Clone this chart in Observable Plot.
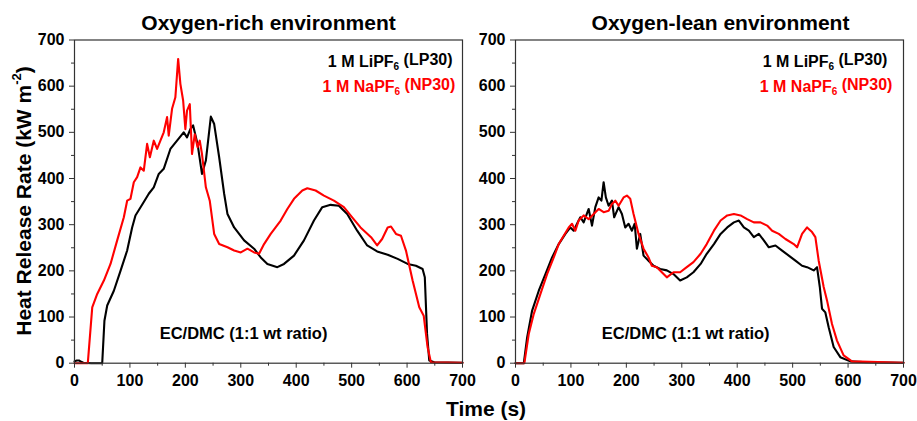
<!DOCTYPE html>
<html><head><meta charset="utf-8">
<script src="https://cdn.jsdelivr.net/npm/d3@7"></script>
<script src="https://cdn.jsdelivr.net/npm/@observablehq/plot@0.6"></script>
<style>
body{margin:0;background:#fff;}
#wrap{position:relative;width:917px;height:421px;font-family:"Liberation Sans",Arial,sans-serif;color:#000;background:#fff;}
.panel{position:absolute;top:0;}
#ylab{position:absolute;left:23px;top:201px;transform:translate(-50%,-50%) rotate(-90deg);white-space:nowrap;font-weight:bold;font-size:21px;line-height:1;}
#xlab{position:absolute;left:486px;top:398px;transform:translateX(-50%);white-space:nowrap;font-weight:bold;font-size:21px;line-height:1;}
sup{font-size:62%;vertical-align:0.75em;line-height:0;}
</style></head>
<body>
<div id="wrap">
<div class="panel" id="left" style="left:0"></div>
<div class="panel" id="right" style="left:470px"></div>
<div id="ylab">Heat Release Rate (kW m<sup>-2</sup>)</div>
<div id="xlab">Time (s)</div>
</div>
<script>
// ---- data ----
const panelTitles = ["Oxygen-rich environment", "Oxygen-lean environment"];
const seriesNames = ["1 M LiPF6 (LP30)", "1 M NaPF6 (NP30)"];
const noteText = "EC/DMC (1:1 wt ratio)";
const axisTicks = [0,100,200,300,400,500,600,700];

// Oxygen-rich, LP30 (black)
const richLP_t = [0,4,8,12,16,30,50,54,59,71,83,95,104,110,125,134,143,152,161,173,185,197,203,209,214,222,230,237,246,252,261,270,276,288,306,324,336,348,366,378,396,414,432,447,462,477,492,510,528,546,565,583,601,616,628,632,636,640,649,700];
const richLP_v = [4,6,6,3,1,0,0,92,125,157,200,244,294,320,349,367,381,410,421,464,482,500,489,507,515,475,410,439,534,518,446,367,323,294,266,248,229,215,208,215,233,266,309,338,343,341,323,287,255,242,235,226,215,211,204,186,64,6,2,1];
// Oxygen-rich, NP30 (red)
const richNP_t = [0,24,32,41,53,65,77,89,95,101,107,113,119,125,131,136,143,149,155,161,167,170,176,182,187,191,196,200,203,208,212,217,222,226,230,237,244,252,261,276,288,300,312,324,333,342,354,372,384,396,411,420,435,450,468,486,501,516,535,546,555,565,571,580,589,598,610,622,630,637,643,700];
const richNP_v = [0,0,121,150,179,215,266,316,352,356,392,403,424,417,475,446,482,464,482,500,533,493,551,576,659,605,569,507,547,561,453,496,468,482,453,381,352,280,258,251,244,240,248,240,237,258,280,309,334,356,374,379,374,363,352,338,316,294,273,255,269,294,296,280,276,244,179,121,103,35,2,1];
// Oxygen-lean, LP30 (black)
const leanLP_t = [0,15,21,30,42,54,66,78,90,99,105,111,117,123,132,138,144,150,155,159,163,168,174,178,186,192,198,204,210,215,219,225,231,240,249,261,273,285,297,309,321,334,345,358,370,382,394,403,412,421,430,439,448,457,469,481,493,505,517,526,538,544,549,553,559,565,574,586,604,634,700];
const leanLP_v = [0,0,56,114,157,193,229,258,280,294,287,302,316,305,334,298,338,359,352,392,359,341,352,316,338,323,294,302,287,302,248,280,233,222,211,204,201,193,179,186,197,215,237,258,280,294,305,309,294,287,273,280,266,251,255,244,233,222,211,208,201,208,165,118,110,78,35,13,4,2,1];
// Oxygen-lean, NP30 (red)
const leanNP_t = [0,16,24,33,45,57,69,78,87,96,102,108,114,123,132,141,150,159,168,174,180,186,195,201,207,213,222,231,240,246,255,264,273,285,297,309,321,334,345,358,370,382,394,406,418,430,442,454,463,475,487,502,508,517,526,535,541,547,556,562,571,580,592,607,700];
const leanNP_v = [0,0,64,107,150,193,229,258,276,294,302,287,309,320,312,323,334,327,330,345,352,341,359,363,356,323,280,248,229,211,208,197,186,197,197,208,219,237,258,287,309,320,323,320,312,305,305,298,287,280,269,258,251,280,294,284,273,222,165,136,85,49,17,4,1];

const toRows = (t, v) => t.map((x, i) => ({t: x, v: v[i]}));

function panel(title, lp, np, cfg) {
  const font = '"Liberation Sans", Arial, sans-serif';
  return Plot.plot({
    width: cfg.width, height: 421,
    marginLeft: cfg.ml, marginRight: cfg.mr, marginTop: 39.5, marginBottom: 58.3,
    style: {fontFamily: font, fontSize: "16px", fontWeight: "bold", color: "#000", background: "transparent", overflow: "visible"},
    x: {domain: [0, 700]},
    y: {domain: [0, 700]},
    marks: [
      Plot.line(lp, {x: "t", y: "v", stroke: "#000", strokeWidth: 2.1, strokeLinejoin: "round"}),
      Plot.line(np, {x: "t", y: "v", stroke: "#ff0000", strokeWidth: 2.1, strokeLinejoin: "round"}),
      Plot.frame({stroke: "#333", strokeWidth: 1.2}),
      Plot.axisY({ticks: axisTicks, tickSize: 5, tickPadding: 5, label: null, tickFormat: d => d, stroke: "#333"}),
      Plot.axisY({ticks: axisTicks.slice(0, -1).map(d => d + 50), tickSize: 3, text: null, label: null, stroke: "#333"}),
      Plot.axisX({ticks: axisTicks, tickSize: 5, tickPadding: 6, label: null, tickFormat: d => d, stroke: "#333"}),
      Plot.axisX({ticks: axisTicks.slice(0, -1).map(d => d + 50), tickSize: 3, text: null, label: null, stroke: "#333"}),
      Plot.text([title], {frameAnchor: "top", lineAnchor: "middle", dy: -17, dx: cfg.titleDx, fontSize: 21, fontWeight: "bold", fill: "#000"}),
      Plot.text([seriesNames[0]], {x: () => cfg.legX0, y: () => 653, textAnchor: "end", fill: "#000", fontSize: 16, fontWeight: "bold"}),
      Plot.text([seriesNames[1]], {x: () => cfg.legX1, y: () => 599, textAnchor: "end", fill: "#ff0000", fontSize: 16, fontWeight: "bold"}),
      Plot.text([noteText], {x: () => cfg.noteX, y: () => 64, fill: "#000", fontSize: 16.5, fontWeight: "bold"})
    ]
  });
}

function subscriptify(svg) {
  d3.select(svg).selectAll("text").each(function() {
    const el = d3.select(this);
    const s = el.text();
    const m = s.match(/^(.*PF)6(.*)$/);
    if (!m) return;
    el.text(null);
    el.append("tspan").attr("font-weight", "bold").text(m[1]);
    el.append("tspan").attr("dy", "0.3em").attr("font-size", "10px").attr("font-weight", "bold").text("6");
    el.append("tspan").attr("dy", "-0.3em").attr("font-weight", "bold").text(m[2]);
  });
}

const left = panel(panelTitles[0], toRows(richLP_t, richLP_v), toRows(richNP_t, richNP_v),
  {width: 470, ml: 74, mr: 8, titleDx: 0, legX0: 682, legX1: 687, noteX: 305});
const right = panel(panelTitles[1], toRows(leanLP_t, leanLP_v), toRows(leanNP_t, leanNP_v),
  {width: 447, ml: 45, mr: 14, titleDx: 11, legX0: 671, legX1: 680, noteX: 307});
subscriptify(left); subscriptify(right);
document.getElementById("left").appendChild(left);
document.getElementById("right").appendChild(right);
</script>
</body></html>
